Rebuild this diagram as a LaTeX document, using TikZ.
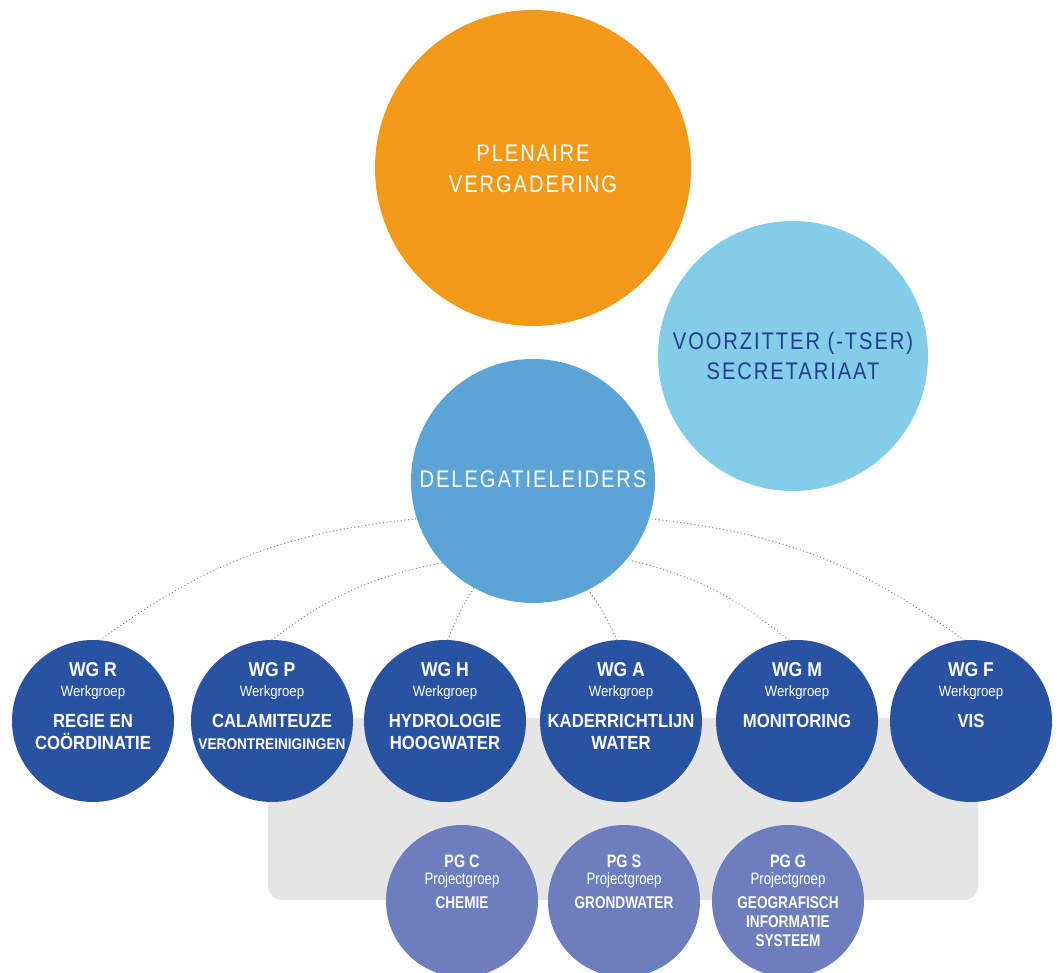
\documentclass[tikz,border=0pt]{standalone}
\usepackage{fontspec}
\setmainfont{Liberation Sans}
\newfontfamily\lightfont[FakeStretch=0.84,LetterSpace=8]{Liberation Sans}
\newfontfamily\condfont[FakeStretch=0.88]{Liberation Sans}
\newfontfamily\narrowfont[FakeStretch=0.8]{Liberation Sans}
\definecolor{plenc}{RGB}{243,153,24}
\definecolor{voorc}{RGB}{131,205,232}
\definecolor{delc}{RGB}{92,163,214}
\definecolor{wgc}{RGB}{42,82,162}
\definecolor{pgc}{RGB}{109,126,190}
\definecolor{greyc}{RGB}{229,229,229}
\definecolor{navyc}{RGB}{38,60,140}
\definecolor{dotc}{RGB}{135,135,135}
\tikzset{
  circ/.style={circle, inner sep=0pt, draw=none},
  toptext/.style={anchor=base, inner sep=0pt, text=white, font=\lightfont\fontsize{24}{28}\selectfont},
  voortext/.style={anchor=base, inner sep=0pt, text=navyc, font=\lightfont\fontsize{24}{28}\selectfont},
  wg/.style={circ, fill=wgc, minimum size=162pt},
  pg/.style={circ, fill=pgc, minimum size=152pt},
  wgcode/.style={anchor=base, inner sep=0pt, text=white, font=\condfont\bfseries\fontsize{20}{22}\selectfont},
  wgsub/.style={anchor=base, inner sep=0pt, text=white, font=\condfont\fontsize{15}{18}\selectfont},
  wgtitle/.style={anchor=base, inner sep=0pt, text=white, font=\condfont\bfseries\fontsize{19}{22}\selectfont},
  pgcode/.style={anchor=base, inner sep=0pt, text=white, font=\narrowfont\bfseries\fontsize{18}{20}\selectfont},
  pgsub/.style={anchor=base, inner sep=0pt, text=white, font=\narrowfont\fontsize{16.5}{18}\selectfont},
  pgtitle/.style={anchor=base, inner sep=0pt, text=white, font=\narrowfont\bfseries\fontsize{17}{19}\selectfont},
  conn/.style={dotc, line width=1.4pt, line cap=round, dash pattern=on 0.01pt off 3.6pt}
}
\newcommand\wgnode[5]{%
  \node[wg] (#1) at (#2,252) {};
  \node[wgcode] (#1c) at (#2,296) {#3};
  \node[wgsub] (#1s) at (#2,276) {Werkgroep};
  \node[wgtitle] (#1a) at (#2,245) {#4};
  \node[wgtitle] (#1b) at (#2,223) {#5};}
\newcommand\pgnode[4]{%
  \node[pg] (#1) at (#2,72) {};
  \node[pgcode] (#1c) at (#2,105) {#3};
  \node[pgsub] (#1s) at (#2,88) {Projectgroep};
  \node[pgtitle] (#1a) at (#2,64) {#4};}
\begin{document}
\begin{tikzpicture}[x=1pt,y=1pt]
\clip (0,0) rectangle (1061,973);
\fill[white] (0,0) rectangle (1061,973);
% top circles
\node[circ, fill=plenc, minimum size=316pt] (plen) at (533,805) {};
\node[toptext] (plen1) at (533,811) {PLENAIRE};
\node[toptext] (plen2) at (533,780) {VERGADERING};
\node[circ, fill=voorc, minimum size=270pt] (voor) at (793,617) {};
\node[voortext] (voor1) at (793,623) {VOORZITTER (-TSER)};
\node[voortext] (voor2) at (793,593) {SECRETARIAAT};
% grey panel
\fill[greyc, rounded corners=14pt] (268,255) rectangle (978,73);
\node[circ, fill=delc, minimum size=244pt] (del) at (533,492) {};
% working groups
\wgnode{wgR}{93}{WG R}{REGIE EN}{COÖRDINATIE}
\node[wg] (wgP) at (272,252) {};
\node[wgcode] (wgPc) at (272,296) {WG P};
\node[wgsub] (wgPs) at (272,276) {Werkgroep};
\node[wgtitle] (wgPa) at (272,245) {CALAMITEUZE};
\node[wgtitle, font=\condfont\bfseries\fontsize{15.5}{18}\selectfont] (wgPb) at (272,223) {VERONTREINIGINGEN};
\wgnode{wgH}{445}{WG H}{HYDROLOGIE}{HOOGWATER}
\wgnode{wgA}{621}{WG A}{KADERRICHTLIJN}{WATER}
\wgnode{wgM}{797}{WG M}{MONITORING}{}
\wgnode{wgF}{971}{WG F}{VIS}{}
% project groups
\pgnode{pgC}{462}{PG C}{CHEMIE}
\pgnode{pgS}{624}{PG S}{GRONDWATER}
\pgnode{pgG}{788}{PG G}{GEOGRAFISCH}
\node[pgtitle] (pgGb) at (788,45) {INFORMATIE};
\node[pgtitle] (pgGd) at (788,26) {SYSTEEM};
% dotted connectors
\draw[conn] (wgR.85) to[bend left=15] (del.198);
\draw[conn] (wgP.north) to[bend left=13] (del.222);
\draw[conn] (wgH.88) to[bend left=5] (del.241);
\draw[conn] (wgA.93) to[bend right=5] (del.297);
\draw[conn] (wgM.96) to[bend right=13] (del.320);
\draw[conn] (wgF.95) to[bend right=15] (del.342);
\node[toptext] (del1) at (533,485) {DELEGATIELEIDERS};
\end{tikzpicture}
\end{document}
